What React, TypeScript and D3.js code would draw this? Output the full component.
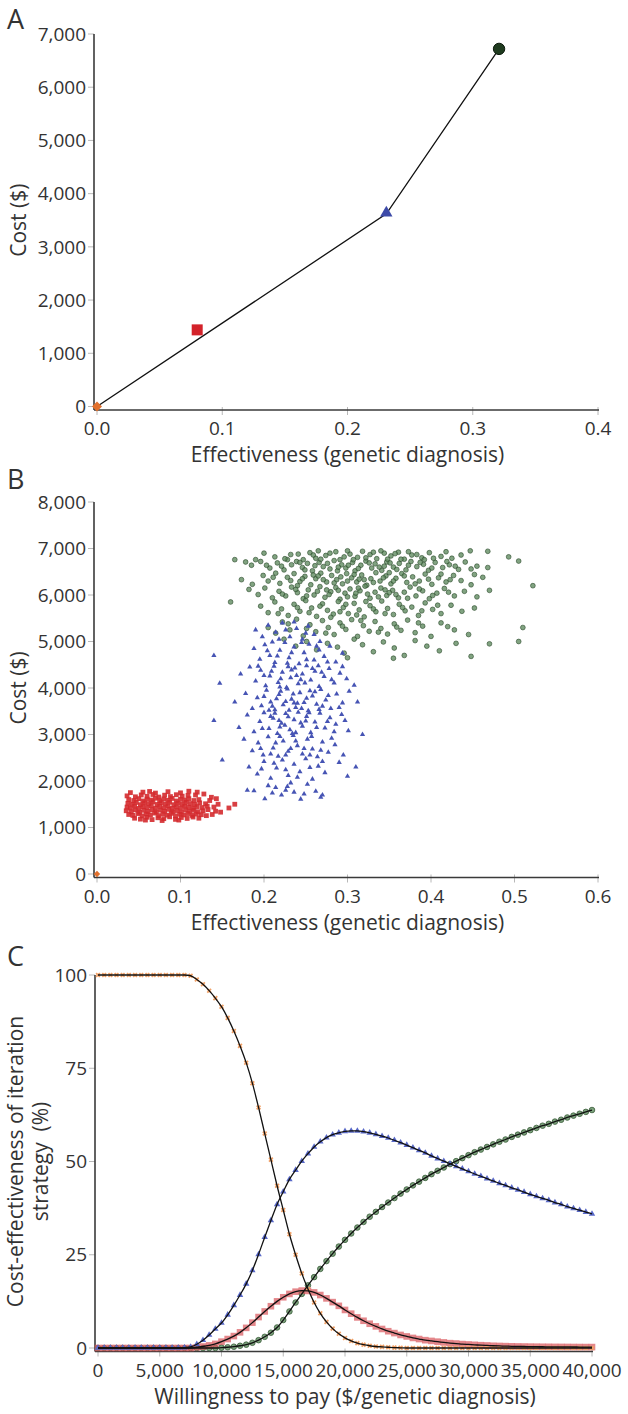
import React from 'react';
import * as d3 from 'd3';

const FONT = "'Open Sans', 'Noto Sans', sans-serif";
const TXT = '#333333';

// ---------- Panel A: base case ----------
const strategyNames = ['Strategy 1', 'Strategy 2', 'Strategy 3', 'Strategy 4'];
const baseEffect = [0, 0.08, 0.231, 0.321];
const baseCost = [0, 1440, 3620, 6720];
const frontierIdx = [0, 2, 3];
const aXTicks = [0, 0.1, 0.2, 0.3, 0.4];
const aYTicks = [0, 1000, 2000, 3000, 4000, 5000, 6000, 7000];

// ---------- Panel B: probabilistic sensitivity analysis ----------
const bXTicks = [0, 0.1, 0.2, 0.3, 0.4, 0.5, 0.6];
const bYTicks = [0, 1000, 2000, 3000, 4000, 5000, 6000, 7000, 8000];
const strategy1Psa: [number, number][] = [[0, 0]];
const strategy2Psa: [number, number][] = [
  [0.045,1200],[0.052,1180],[0.060,1220],[0.066,1170],[0.073,1210],[0.080,1190],[0.087,1230],[0.094,1175],[0.101,1215],[0.108,1195],[0.115,1225],[0.122,1200],[0.058,1160],[0.078,1150],[0.098,1160],
  [0.038,1280],[0.043,1260],[0.049,1300],[0.054,1250],[0.059,1290],[0.064,1270],[0.069,1310],[0.074,1255],[0.079,1295],[0.084,1265],[0.089,1305],[0.094,1250],[0.099,1285],[0.104,1270],[0.109,1300],[0.114,1260],[0.119,1290],[0.125,1275],[0.131,1255],[0.138,1280],
  [0.035,1360],[0.041,1340],[0.046,1380],[0.051,1330],[0.056,1370],[0.061,1345],[0.066,1385],[0.071,1335],[0.076,1375],[0.081,1350],[0.086,1390],[0.091,1340],[0.096,1365],[0.101,1330],[0.106,1380],[0.111,1350],[0.116,1370],[0.121,1340],[0.127,1360],[0.133,1385],[0.142,1350],[0.148,1330],
  [0.036,1440],[0.040,1420],[0.045,1460],[0.050,1410],[0.055,1450],[0.060,1430],[0.065,1470],[0.070,1415],[0.075,1455],[0.080,1425],[0.085,1465],[0.090,1410],[0.095,1445],[0.100,1420],[0.105,1460],[0.110,1435],[0.115,1415],[0.120,1450],[0.126,1430],[0.132,1460],[0.140,1440],[0.158,1420],
  [0.037,1520],[0.042,1500],[0.047,1540],[0.052,1490],[0.057,1530],[0.062,1510],[0.067,1550],[0.072,1495],[0.077,1535],[0.082,1505],[0.087,1545],[0.092,1490],[0.097,1525],[0.102,1500],[0.107,1540],[0.112,1515],[0.117,1495],[0.123,1530],[0.130,1510],[0.145,1500],[0.165,1500],
  [0.038,1600],[0.044,1580],[0.050,1620],[0.055,1570],[0.060,1610],[0.065,1590],[0.070,1630],[0.075,1575],[0.080,1615],[0.085,1585],[0.090,1625],[0.095,1570],[0.100,1605],[0.105,1590],[0.110,1620],[0.116,1580],[0.122,1600],[0.135,1580],[0.143,1620],
  [0.036,1680],[0.046,1660],[0.053,1700],[0.060,1670],[0.067,1710],[0.074,1655],[0.081,1695],[0.088,1665],[0.095,1705],[0.102,1675],[0.109,1690],[0.118,1700],[0.128,1720],[0.137,1650],
  [0.040,1750],[0.055,1760],[0.070,1740],[0.085,1770],[0.100,1745],[0.110,1780],[0.120,1760],[0.063,1775]
];
const strategy3Psa: [number, number][] = [
  [0.205,5350],[0.214,5200],[0.222,5400],[0.231,5100],[0.239,5280],[0.246,5050],[0.253,5330],[0.260,5150],[0.218,5050],[0.236,5420],[0.190,5250],[0.267,5000],
  [0.140,4700],[0.188,4850],[0.195,4620],[0.201,4930],[0.207,4700],[0.213,4550],[0.219,4810],[0.225,4980],[0.230,4650],[0.236,4880],[0.242,4520],[0.248,4760],[0.254,4940],[0.260,4600],[0.266,4820],[0.272,4680],[0.279,4900],[0.286,4560],[0.294,4750],[0.228,4530],[0.210,4990],[0.245,4980],
  [0.147,4100],[0.172,4300],[0.183,4450],[0.190,4150],[0.196,4380],[0.202,4050],[0.207,4260],[0.212,4470],[0.217,4120],[0.222,4340],[0.227,4010],[0.232,4220],[0.237,4430],[0.241,4090],[0.246,4300],[0.251,4480],[0.256,4170],[0.261,4360],[0.266,4030],[0.272,4250],[0.278,4420],[0.284,4110],[0.291,4320],[0.299,4200],[0.308,4060],[0.220,4200],[0.244,4180],[0.200,4270],[0.265,4480],[0.233,4390],
  [0.165,3700],[0.178,3880],[0.186,3560],[0.192,3790],[0.197,3620],[0.203,3950],[0.208,3700],[0.213,3530],[0.218,3860],[0.223,3640],[0.228,3980],[0.233,3760],[0.238,3580],[0.243,3900],[0.248,3690],[0.253,3510],[0.258,3830],[0.263,3650],[0.268,3970],[0.274,3740],[0.280,3560],[0.287,3870],[0.294,3680],[0.302,3930],[0.312,3700],[0.215,3770],[0.240,3670],[0.255,3940],[0.230,3520],[0.270,3610],
  [0.140,3300],[0.170,3150],[0.180,3420],[0.188,3060],[0.195,3280],[0.200,3470],[0.206,3130],[0.211,3350],[0.216,3020],[0.221,3240],[0.226,3450],[0.231,3100],[0.236,3320],[0.241,3480],[0.246,3180],[0.251,3390],[0.256,3040],[0.261,3270],[0.267,3460],[0.273,3140],[0.279,3360],[0.286,3220],[0.293,3430],[0.301,3080],[0.318,3000],[0.225,3200],[0.250,3290],[0.213,3460],[0.238,3040],
  [0.150,2450],[0.176,2900],[0.186,2650],[0.193,2820],[0.199,2560],[0.205,2950],[0.211,2710],[0.217,2530],[0.223,2860],[0.229,2640],[0.235,2980],[0.240,2760],[0.246,2580],[0.252,2900],[0.258,2690],[0.264,2520],[0.270,2840],[0.277,2620],[0.285,2780],[0.295,2560],[0.310,2300],[0.232,2700],[0.257,2960],
  [0.182,2300],[0.192,2150],[0.200,2420],[0.208,2060],[0.215,2280],[0.222,2450],[0.229,2120],[0.236,2360],[0.243,2200],[0.250,2480],[0.258,2040],[0.265,2320],[0.273,2180],[0.290,2400],[0.300,2100],
  [0.180,1800],[0.188,1790],[0.201,1620],[0.210,1740],[0.214,1860],[0.221,1700],[0.228,1880],[0.236,1760],[0.244,1610],[0.252,1930],[0.262,1780],[0.268,1650],[0.270,1700],[0.232,1960],
  [0.198,5100],[0.226,5250],[0.250,5180],
  [0.204,4800],[0.216,4690],[0.233,4760],[0.251,4610],[0.263,4900],[0.276,4560],
  [0.193,4470],[0.209,4360],[0.219,4020],[0.229,4460],[0.239,4270],[0.249,4110],[0.258,4420],[0.269,4340],[0.281,4180],[0.294,4460],
  [0.200,3820],[0.210,3610],[0.220,3930],[0.226,3710],[0.235,3870],[0.245,3560],[0.251,3780],[0.261,3920],[0.266,3540],[0.277,3840],[0.290,3580],[0.206,3520],[0.236,3680],
  [0.198,3130],[0.208,3390],[0.219,3160],[0.229,3380],[0.234,3020],[0.244,3250],[0.254,3470],[0.263,3150],[0.276,3280],[0.284,3060],[0.297,3300],[0.218,3300],
  [0.196,2700],[0.208,2580],[0.219,2960],[0.226,2560],[0.238,2860],[0.248,2700],[0.255,2560],[0.268,2660],[0.281,2920],[0.214,2820],
  [0.197,2260],[0.212,2380],[0.226,2240],[0.240,2080],[0.255,2290],[0.270,2420],
  [0.205,1900],[0.226,1800],[0.248,1720]
];
const strategy4Psa: [number, number][] = [
  [0.200,6900],[0.213,6820],[0.228,6760],[0.241,6880],[0.255,6910],[0.262,6790],[0.274,6850],[0.286,6930],[0.291,6760],[0.303,6880],[0.312,6810],[0.318,6940],[0.327,6870],[0.335,6780],[0.344,6900],[0.352,6840],[0.361,6920],[0.368,6770],[0.377,6860],[0.389,6800],[0.398,6910],[0.412,6830],[0.425,6790],[0.447,6950],[0.468,6940],[0.493,6820],[0.190,6760],[0.265,6950],[0.300,6950],[0.340,6950],
  [0.165,6760],[0.178,6710],[0.185,6640],[0.196,6720],[0.207,6580],[0.216,6690],[0.224,6540],[0.233,6650],[0.239,6720],[0.246,6590],[0.252,6680],[0.258,6520],[0.266,6700],[0.271,6610],[0.279,6560],[0.284,6740],[0.293,6650],[0.298,6580],[0.306,6700],[0.309,6520],[0.316,6640],[0.322,6730],[0.329,6580],[0.333,6670],[0.341,6530],[0.347,6710],[0.355,6600],[0.362,6680],[0.370,6540],[0.376,6720],[0.383,6610],[0.391,6660],[0.397,6530],[0.405,6700],[0.414,6590],[0.422,6650],[0.433,6550],[0.441,6710],[0.455,6620],[0.468,6590],[0.505,6730],[0.225,6780],[0.288,6520],[0.344,6620],[0.364,6770],[0.392,6760],
  [0.173,6330],[0.186,6230],[0.199,6420],[0.205,6300],[0.214,6470],[0.219,6250],[0.228,6380],[0.236,6460],[0.243,6290],[0.249,6400],[0.256,6220],[0.262,6350],[0.268,6470],[0.275,6280],[0.281,6420],[0.287,6330],[0.294,6240],[0.299,6460],[0.305,6370],[0.311,6280],[0.317,6430],[0.323,6210],[0.328,6350],[0.334,6480],[0.339,6300],[0.346,6410],[0.352,6240],[0.358,6360],[0.365,6460],[0.371,6270],[0.378,6390],[0.386,6300],[0.393,6450],[0.401,6230],[0.409,6370],[0.418,6280],[0.427,6420],[0.436,6310],[0.448,6220],[0.462,6380],[0.522,6200],[0.240,6200],[0.300,6300],[0.350,6480],[0.320,6330],[0.265,6410],
  [0.160,5850],[0.182,6120],[0.193,6010],[0.201,6150],[0.210,5940],[0.218,6080],[0.226,5980],[0.233,6170],[0.240,6050],[0.247,5920],[0.253,6110],[0.260,6000],[0.267,6180],[0.273,5950],[0.280,6070],[0.286,6160],[0.291,5910],[0.297,6040],[0.303,6130],[0.309,5970],[0.315,6090],[0.321,6190],[0.327,5930],[0.333,6060],[0.340,6150],[0.347,5990],[0.354,6100],[0.361,5940],[0.368,6060],[0.375,6170],[0.382,5980],[0.390,6090],[0.398,5920],[0.407,6040],[0.416,6140],[0.428,5980],[0.440,6080],[0.455,5960],[0.470,6100],[0.275,6110],[0.310,6040],[0.350,6050],
  [0.196,5760],[0.205,5620],[0.213,5850],[0.221,5700],[0.229,5560],[0.236,5800],[0.243,5650],[0.250,5880],[0.257,5720],[0.263,5540],[0.270,5810],[0.276,5670],[0.283,5590],[0.289,5860],[0.295,5730],[0.301,5600],[0.308,5820],[0.314,5680],[0.320,5530],[0.327,5770],[0.334,5640],[0.341,5870],[0.348,5710],[0.355,5580],[0.362,5800],[0.369,5660],[0.377,5740],[0.385,5560],[0.393,5830],[0.402,5690],[0.412,5600],[0.424,5780],[0.437,5650],[0.452,5720],[0.291,5640],[0.322,5860],
  [0.205,5300],[0.214,5180],[0.222,5420],[0.231,5250],[0.239,5480],[0.247,5120],[0.255,5360],[0.262,5210],[0.270,5450],[0.277,5300],[0.284,5150],[0.291,5400],[0.298,5260],[0.305,5470],[0.312,5110],[0.319,5340],[0.326,5220],[0.333,5430],[0.340,5280],[0.348,5160],[0.356,5380],[0.364,5240],[0.372,5460],[0.381,5190],[0.390,5330],[0.400,5110],[0.412,5400],[0.428,5250],[0.445,5150],[0.510,5300],[0.505,5000],
  [0.224,5050],[0.238,4900],[0.251,5000],[0.263,4820],[0.276,4960],[0.288,4880],[0.296,4750],[0.308,5050],[0.318,4930],[0.331,4780],[0.343,4990],[0.356,4860],[0.368,4700],[0.381,5020],[0.395,4900],[0.410,4800],[0.430,4960],[0.448,4680],[0.470,4950],[0.300,4650],[0.355,4640],
  [0.232,6870],[0.247,6760],[0.259,6860],[0.268,6770],[0.279,6900],[0.296,6820],[0.307,6760],[0.322,6800],[0.331,6920],[0.348,6770],[0.357,6890],[0.373,6930],[0.383,6870],[0.403,6790],[0.418,6930],[0.436,6860],
  [0.203,6640],[0.221,6620],[0.243,6700],[0.249,6540],[0.261,6630],[0.276,6680],[0.289,6600],[0.301,6640],[0.313,6570],[0.326,6690],[0.338,6600],[0.351,6690],[0.359,6550],[0.373,6640],[0.387,6700],[0.401,6580],[0.419,6720],[0.429,6620],[0.448,6560],
  [0.211,6380],[0.232,6310],[0.246,6350],[0.259,6430],[0.271,6330],[0.284,6260],[0.292,6390],[0.308,6440],[0.314,6340],[0.331,6270],[0.343,6370],[0.355,6300],[0.368,6410],[0.381,6240],[0.397,6340],[0.412,6450],[0.423,6330],[0.452,6440],
  [0.222,6020],[0.238,6120],[0.251,5980],[0.264,6080],[0.278,6010],[0.289,6100],[0.300,5960],[0.313,6150],[0.324,6020],[0.337,5960],[0.345,6110],[0.358,6010],[0.372,5930],[0.386,6130],[0.402,5990],[0.421,6060],
  [0.217,5600],[0.240,5730],[0.254,5620],[0.267,5760],[0.280,5520],[0.298,5800],[0.311,5570],[0.331,5700],[0.345,5600],[0.366,5730],[0.389,5660],[0.408,5780],
  [0.229,5380],[0.251,5280],[0.274,5180],[0.294,5330],[0.316,5450],[0.337,5200],[0.359,5310],[0.385,5400],[0.420,5320]
];

// ---------- Panel C: acceptability curves ----------
const wtp = [0,500,1000,1500,2000,2500,3000,3500,4000,4500,5000,5500,6000,6500,7000,7500,8000,8500,9000,9500,10000,10500,11000,11500,12000,12500,13000,13500,14000,14500,15000,15500,16000,16500,17000,17500,18000,18500,19000,19500,20000,20500,21000,21500,22000,22500,23000,23500,24000,24500,25000,25500,26000,26500,27000,27500,28000,28500,29000,29500,30000,30500,31000,31500,32000,32500,33000,33500,34000,34500,35000,35500,36000,36500,37000,37500,38000,38500,39000,39500,40000];
const strategy1Ce = [100,100,100,100,100,100,100,100,100,100,100,100,100,100,100,99.8,98.8,97.5,95.8,93.8,91.5,88.5,85,81,76.5,71,64.5,57.5,50.5,43.5,37,30.5,25,20,15.8,12.2,9.3,7,5.2,3.8,2.7,1.9,1.3,0.9,0.6,0.4,0.3,0.2,0.1,0.05,0,0,0,0,0,0,0,0,0,0,0,0,0,0,0,0,0,0,0,0,0,0,0,0,0,0,0,0,0,0,0];
const strategy2Ce = [0,0,0,0,0,0,0,0,0,0,0,0,0,0,0,0,0.2,0.4,0.7,1.1,1.7,2.4,3.2,4.2,5.4,6.8,8.3,9.8,11.2,12.5,13.6,14.5,15.1,15.4,15.3,14.9,14.2,13.3,12.3,11.3,10.2,9.2,8.2,7.3,6.5,5.8,5.1,4.5,4.0,3.5,3.1,2.7,2.4,2.1,1.9,1.7,1.5,1.3,1.2,1.05,0.95,0.85,0.75,0.68,0.6,0.55,0.5,0.45,0.42,0.4,0.37,0.35,0.33,0.32,0.3,0.29,0.28,0.27,0.26,0.25,0.25];
const strategy3Ce = [0,0,0,0,0,0,0,0,0,0,0,0,0,0,0.1,0.3,1.0,2.1,3.5,5.1,6.7,8.9,11.45,14.2,17.2,20.8,25.1,29.7,34.2,38.5,41.9,45.2,47.7,50.1,52.1,53.9,55.3,56.4,57.2,57.7,58.1,58.2,58.2,58.0,57.7,57.3,56.8,56.3,55.7,55.05,54.4,53.7,53.0,52.3,51.5,50.8,50.1,49.4,48.7,48.05,47.35,46.65,46.05,45.4,44.8,44.15,43.6,42.95,42.4,41.8,41.2,40.65,40.1,39.6,39.0,38.5,37.9,37.4,36.95,36.45,35.95];
const strategy4Ce = [0,0,0,0,0,0,0,0,0,0,0,0,0,0,0,0,0,0,0,0,0.1,0.2,0.35,0.6,0.9,1.4,2.1,3.0,4.1,5.5,7.5,9.8,12.2,14.5,16.8,19.0,21.2,23.3,25.3,27.2,29.0,30.7,32.3,33.8,35.2,36.5,37.8,39.0,40.2,41.4,42.5,43.6,44.6,45.6,46.6,47.5,48.4,49.3,50.1,50.9,51.7,52.5,53.2,53.9,54.6,55.3,55.9,56.6,57.2,57.8,58.4,59.0,59.6,60.1,60.7,61.2,61.8,62.3,62.8,63.3,63.8];
const cXTicks = [0, 5000, 10000, 15000, 20000, 25000, 30000, 35000, 40000];
const cYTicks = [0, 25, 50, 75, 100];

const COL = {
  orange: '#e2702c',
  red: '#d3222a',
  blue: '#3d4aa8',
  green: '#1f3b1f',
};

type AxisProps = {
  xs: d3.ScaleLinear<number, number>;
  ys: d3.ScaleLinear<number, number>;
  xTicks: number[];
  yTicks: number[];
  xFmt: (v: number) => string;
  yFmt: (v: number) => string;
  xTitle: string;
  yTitle: string[];
  yTitleX: number[];
  letter: string;
  letterY: number;
};

function Axes({ xs, ys, xTicks, yTicks, xFmt, yFmt, xTitle, yTitle, yTitleX, letter, letterY }: AxisProps) {
  const y0 = ys(0);
  const axisY = y0 + 3.5;
  const axisX = xs(0) - 3;
  const yTop = ys(yTicks[yTicks.length - 1]);
  const xRight = xs(xTicks[xTicks.length - 1]);
  const yMid = (yTop + y0) / 2;
  const xMid = (xs(xTicks[0]) + xRight) / 2;
  return (
    <g fontFamily={FONT} fill={TXT}>
      <text x={7} y={letterY} fontSize={27}>{letter}</text>
      {yTicks.map((v) => (
        <g key={'y' + v}>
          <line x1={axisX - 6} x2={axisX} y1={ys(v)} y2={ys(v)} stroke="#b8b8b8" strokeWidth={1} />
          <text x={axisX - 8} y={ys(v)} dy="0.35em" textAnchor="end" fontSize={19}>{yFmt(v)}</text>
        </g>
      ))}
      {xTicks.map((v) => (
        <g key={'x' + v}>
          <line x1={xs(v)} x2={xs(v)} y1={axisY - 3} y2={axisY + 5} stroke="#b8b8b8" strokeWidth={1} />
          <text x={xs(v)} y={axisY + 25} textAnchor="middle" fontSize={19}>{xFmt(v)}</text>
        </g>
      ))}
      <line x1={axisX} x2={axisX} y1={yTop} y2={axisY} stroke="#3a3a3a" strokeWidth={1.6} />
      <line x1={axisX} x2={xRight + 1} y1={axisY} y2={axisY} stroke="#3a3a3a" strokeWidth={1.6} />
      <text x={xMid} y={axisY + 52} textAnchor="middle" fontSize={21}>{xTitle}</text>
      {yTitle.map((t, i) => (
        <text key={t} transform={`translate(${yTitleX[i]},${yMid}) rotate(-90)`} textAnchor="middle" dy="0.35em" fontSize={21}>{t}</text>
      ))}
    </g>
  );
}

const sym = (type: d3.SymbolType, size: number) => d3.symbol().type(type).size(size)() as string;

export default function App() {
  const fmtComma = d3.format(',');
  const fmt1 = d3.format('.1f');

  // Panel A scales
  const ax = d3.scaleLinear().domain([0, 0.4]).range([97, 598]);
  const ay = d3.scaleLinear().domain([0, 7000]).range([406.5, 34]);
  const frontierLine = d3.line<number>().x((i) => ax(baseEffect[i])).y((i) => ay(baseCost[i]));

  // Panel B scales
  const bx = d3.scaleLinear().domain([0, 0.6]).range([97, 598]);
  const by = d3.scaleLinear().domain([0, 8000]).range([874, 502]);

  // Panel C scales
  const cx = d3.scaleLinear().domain([0, 40000]).range([98, 592]);
  const cy = d3.scaleLinear().domain([0, 100]).range([1348, 975]);
  const curve = (vals: number[]) =>
    d3.line<number>().x((_, i) => cx(wtp[i])).y((v) => cy(v)).curve(d3.curveMonotoneX)(vals) as string;

  const triSmall = sym(d3.symbolTriangle, 12);
  const triC = sym(d3.symbolTriangle, 18);
  const diaC = sym(d3.symbolCross, 16);

  return (
    <svg width={628} height={1414} style={{ position: 'absolute', left: 0, top: 0, background: '#fff' }}>
      <rect width={628} height={1414} fill="#fff" />

      {/* Panel A */}
      <Axes xs={ax} ys={ay} xTicks={aXTicks} yTicks={aYTicks} xFmt={fmt1} yFmt={fmtComma}
        xTitle="Effectiveness (genetic diagnosis)" yTitle={['Cost ($)']} yTitleX={[19]} letter="A" letterY={29} />
      <path d={frontierLine(frontierIdx) as string} fill="none" stroke="#111" strokeWidth={1.3} />
      <g>
        <path d={sym(d3.symbolSquare, 50)} transform={`translate(${ax(baseEffect[0])},${ay(baseCost[0])}) rotate(45)`} fill={COL.orange} />
        <rect x={ax(baseEffect[1]) - 5.5} y={ay(baseCost[1]) - 5.5} width={11} height={11} fill={COL.red} />
        <path d={sym(d3.symbolTriangle, 66)} transform={`translate(${ax(baseEffect[2])},${ay(baseCost[2]) - 1})`} fill={COL.blue} />
        <circle cx={ax(baseEffect[3])} cy={ay(baseCost[3])} r={5.7} fill={COL.green} stroke="#0c1a0c" strokeWidth={1} />
      </g>

      {/* Panel B */}
      <Axes xs={bx} ys={by} xTicks={bXTicks} yTicks={bYTicks} xFmt={fmt1} yFmt={fmtComma}
        xTitle="Effectiveness (genetic diagnosis)" yTitle={['Cost ($)']} yTitleX={[19]} letter="B" letterY={489} />
      <g>
        {strategy4Psa.map(([e, c], i) => (
          <circle key={'g' + i} cx={bx(e)} cy={by(c)} r={2.4} fill="#628c62" fillOpacity={0.8} stroke="#264626" strokeWidth={0.6} />
        ))}
        {strategy3Psa.map(([e, c], i) => (
          <path key={'b' + i} d={triSmall} transform={`translate(${bx(e)},${by(c)})`} fill="#4654b4" />
        ))}
        {strategy2Psa.map(([e, c], i) => (
          <rect key={'r' + i} x={bx(e) - 2.4} y={by(c) - 2.4} width={4.8} height={4.8} fill="#d42a2e" fillOpacity={0.9} />
        ))}
        {strategy1Psa.map(([e, c], i) => (
          <path key={'o' + i} d={sym(d3.symbolSquare, 20)} transform={`translate(${bx(e)},${by(c)}) rotate(45)`} fill={COL.orange} />
        ))}
      </g>

      {/* Panel C */}
      <Axes xs={cx} ys={cy} xTicks={cXTicks} yTicks={cYTicks} xFmt={fmtComma} yFmt={(v) => String(v)}
        xTitle="Willingness to pay ($/genetic diagnosis)" yTitle={['Cost-effectiveness of iteration', 'strategy\u00a0\u00a0(%)']}
        yTitleX={[16, 41]} letter="C" letterY={966} />
      <g>
        {strategy4Ce.map((v, i) => (
          <circle key={'cg' + i} cx={cx(wtp[i])} cy={cy(v)} r={2.8} fill="#7da37d" stroke="#3a5a3a" strokeWidth={0.8} />
        ))}
        {strategy2Ce.map((v, i) => (
          <rect key={'cr' + i} x={cx(wtp[i]) - 3.3} y={cy(v) - 3.3} width={6.6} height={6.6} fill="#d9545a" fillOpacity={0.7} />
        ))}
        {strategy3Ce.map((v, i) => (
          <path key={'cb' + i} d={triC} transform={`translate(${cx(wtp[i])},${cy(v)})`} fill="#5868c8" />
        ))}
        {strategy1Ce.map((v, i) => (
          <path key={'co' + i} d={diaC} transform={`translate(${cx(wtp[i])},${cy(v)}) rotate(45)`} fill="#f0a066" />
        ))}
        {[strategy4Ce, strategy2Ce, strategy3Ce, strategy1Ce].map((s, k) => (
          <path key={'line' + k} d={curve(s)} fill="none" stroke="#111" strokeWidth={1.3} />
        ))}
      </g>
    </svg>
  );
}
